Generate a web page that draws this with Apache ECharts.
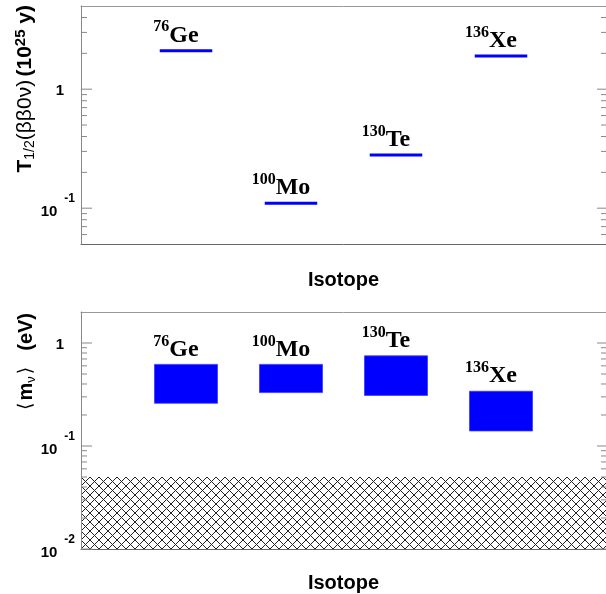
<!DOCTYPE html>
<html>
<head>
<meta charset="utf-8">
<script src="https://cdn.jsdelivr.net/npm/echarts@6/dist/echarts.min.js"></script>
<style>
  html, body { margin: 0; padding: 0; background: #fff; }
  #chart { width: 606px; height: 594px; }
</style>
</head>
<body>
<div id="chart"></div>
<script>
// ======================
// DATA
// ======================

const isotopeNames = ['Ge', 'Mo', 'Te', 'Xe'];
const massNumbers = ['76', '100', '130', '136'];
const isotopeSlots = [1, 2, 3, 4];

// half-life limits, 10^25 y
const halfLifeLimits = [2.1, 0.11, 0.28, 1.9];

// effective mass ranges, eV
const massUpper = [0.62, 0.62, 0.75, 0.34];
const massLower = [0.26, 0.33, 0.31, 0.14];

// hatched band, eV
const excludedBand = [0.01, 0.05];

// ticks of the log axes
const halfLifeMajorTicks = [0.1, 1];
const halfLifeMinorTicks = [0.06, 0.07, 0.08, 0.09, 0.2, 0.3, 0.4, 0.5, 0.6, 0.7, 0.8, 0.9, 2, 3, 4];
const massMajorTicks = [0.01, 0.1, 1];
const massMinorTicks = [0.02, 0.03, 0.04, 0.05, 0.06, 0.07, 0.08, 0.09, 0.2, 0.3, 0.4, 0.5, 0.6, 0.7, 0.8, 0.9];

// ======================
// STYLE
// ======================

const BLUE = '#0000ff';
const SANS = '"Liberation Sans", Arial, sans-serif';
const SERIF = '"Liberation Serif", "Times New Roman", serif';
const LINE_HALF = 0.25;
const BOX_HALF = 0.3;
const LABEL_SHIFT = -10;

const isoRich = {
    m: { fontFamily: SERIF, fontWeight: 'bold', fontSize: 16, lineHeight: 10, verticalAlign: 'top', color: '#000' },
    e: { fontFamily: SERIF, fontWeight: 'bold', fontSize: 24, lineHeight: 28, verticalAlign: 'bottom', color: '#000' }
};

const tickRich = {
    n: { fontFamily: SANS, fontWeight: 'bold', fontSize: 15, lineHeight: 30, verticalAlign: 'bottom', color: '#000', padding: [0, 0, 4, 0] },
    one: { fontFamily: SANS, fontWeight: 'bold', fontSize: 15, lineHeight: 30, verticalAlign: 'bottom', color: '#000', padding: [0, 11, 6, 0] },
    x: { fontFamily: SANS, fontWeight: 'bold', fontSize: 12, lineHeight: 10, verticalAlign: 'top', color: '#000', padding: [0, 0, 0, 7] }
};

// ======================
// HATCH PATTERN
// ======================

const hatch = document.createElement('canvas');
hatch.width = 9;
hatch.height = 9;
(function () {
    const ctx = hatch.getContext('2d');
    ctx.strokeStyle = '#222';
    ctx.lineWidth = 1;
    ctx.beginPath();
    ctx.moveTo(-1, -1); ctx.lineTo(10, 10);
    ctx.moveTo(-1, 10); ctx.lineTo(10, -1);
    ctx.stroke();
})();

// ======================
// HELPERS
// ======================

function tickLabel(v) {
    const p = Math.round(Math.log10(v));
    if (Math.abs(Math.log10(v) - p) > 1e-6) return '';
    if (p === 0) return '{one|1}';
    return '{n|10}{x|' + p + '}';
}

function isoText(i) {
    return '{m|' + massNumbers[i] + '}{e|' + isotopeNames[i] + '}';
}

function xAxisPair(gridIndex) {
    return [
        {
            type: 'value', gridIndex, min: 0, max: 5, position: 'bottom',
            axisLine: { show: true, lineStyle: { color: '#666', width: 1 } },
            axisTick: { show: false }, axisLabel: { show: false }, splitLine: { show: false },
            name: 'Isotope', nameLocation: 'middle', nameGap: gridIndex === 0 ? 26 : 24,
            nameTextStyle: { fontFamily: SANS, fontWeight: 'bold', fontSize: 20, color: '#000' }
        },
        {
            type: 'value', gridIndex, min: 0, max: 5, position: 'top',
            axisLine: { show: true, lineStyle: { color: '#999', width: 1 } },
            axisTick: { show: false }, axisLabel: { show: false }, splitLine: { show: false }
        }
    ];
}

function yAxisPair(gridIndex, min, max) {
    return [
        {
            type: 'log', logBase: 10, gridIndex, min, max, position: 'left', z: 5,
            axisLine: { show: true, lineStyle: { color: '#888', width: 1 } },
            axisTick: { show: false },
            axisLabel: { show: true, margin: 6, formatter: tickLabel, rich: tickRich, showMinLabel: true, showMaxLabel: true },
            splitLine: { show: false }
        },
        {
            type: 'log', logBase: 10, gridIndex, min, max, position: 'right', z: 5,
            axisLine: { show: false },
            axisTick: { show: false },
            axisLabel: { show: false },
            splitLine: { show: false }
        }
    ];
}

// ticks drawn through the axis scale: left length / right length
function tickSeries(xIdx, yIdx, values, leftLen, rightLen) {
    return {
        type: 'custom', xAxisIndex: xIdx, yAxisIndex: yIdx, z: 6, silent: true,
        data: values.map(v => [0, v]),
        renderItem: (params, api) => {
            const l = api.coord([0, api.value(1)]);
            const r = api.coord([5, api.value(1)]);
            return {
                type: 'group',
                children: [
                    { type: 'line', shape: { x1: l[0], y1: l[1], x2: l[0] + leftLen, y2: l[1] }, style: { stroke: '#888', lineWidth: 1 } },
                    { type: 'line', shape: { x1: r[0] - rightLen, y1: r[1], x2: r[0], y2: r[1] }, style: { stroke: '#888', lineWidth: 1 } }
                ]
            };
        }
    };
}

// ======================
// RENDER ITEMS
// ======================

function renderHalfLife(params, api) {
    const slot = api.value(0);
    const val = api.value(1);
    const a = api.coord([slot - LINE_HALF, val]);
    const b = api.coord([slot + LINE_HALF, val]);
    return {
        type: 'group',
        children: [
            { type: 'line', shape: { x1: a[0], y1: a[1], x2: b[0], y2: b[1] }, style: { stroke: BLUE, lineWidth: 3 } },
            {
                type: 'text', x: (a[0] + b[0]) / 2 + LABEL_SHIFT, y: a[1] - 3.5,
                style: { text: isoText(params.dataIndex), rich: isoRich, align: 'center', verticalAlign: 'bottom' }
            }
        ]
    };
}

function renderMass(params, api) {
    const slot = api.value(0);
    const lo = api.coord([slot - BOX_HALF, api.value(1)]);
    const hi = api.coord([slot + BOX_HALF, api.value(2)]);
    return {
        type: 'group',
        children: [
            {
                type: 'rect',
                shape: { x: lo[0], y: hi[1], width: hi[0] - lo[0], height: lo[1] - hi[1] },
                style: { fill: BLUE, stroke: '#3a3aff', lineWidth: 0.8 }
            },
            {
                type: 'text', x: (lo[0] + hi[0]) / 2 + LABEL_SHIFT, y: hi[1] - 3,
                style: { text: isoText(params.dataIndex), rich: isoRich, align: 'center', verticalAlign: 'bottom' }
            }
        ]
    };
}

function renderBand(params, api) {
    const a = api.coord([0, api.value(1)]);
    const b = api.coord([5, api.value(2)]);
    return {
        type: 'rect',
        shape: { x: a[0], y: b[1], width: b[0] - a[0], height: a[1] - b[1] },
        style: { fill: { image: hatch, repeat: 'repeat' } }
    };
}

// ======================
// OPTION
// ======================

const option = {
    animation: false,
    backgroundColor: '#fff',
    grid: [
        { left: 81, top: 6, width: 525, height: 238, outerBoundsMode: 'none', containLabel: false },
        { left: 81, top: 312, width: 525, height: 237, outerBoundsMode: 'none', containLabel: false }
    ],
    xAxis: [...xAxisPair(0), ...xAxisPair(1)],
    yAxis: [...yAxisPair(0, 0.05, 5), ...yAxisPair(1, 0.01, 2)],
    graphic: [
        {
            type: 'text', x: 25, y: 5, rotation: Math.PI / 2,
            style: {
                text: '{t|T}{s|1/2}{g|(ββ0ν)} {t|(10}{p|25}{t| y)}',
                align: 'right', verticalAlign: 'middle',
                rich: {
                    t: { fontFamily: SANS, fontWeight: 'bold', fontSize: 21, lineHeight: 24, verticalAlign: 'middle', color: '#000' },
                    g: { fontFamily: SANS, fontSize: 21, lineHeight: 24, verticalAlign: 'middle', color: '#000' },
                    s: { fontFamily: SANS, fontSize: 14, lineHeight: 8, verticalAlign: 'bottom', color: '#000' },
                    p: { fontFamily: SANS, fontWeight: 'bold', fontSize: 15, lineHeight: 8, verticalAlign: 'top', color: '#000' }
                }
            }
        },
        {
            type: 'text', x: 26, y: 313, rotation: Math.PI / 2,
            style: {
                text: '{a|⟨}{t|m}{s|ν}{a|⟩}{w| }{t|(eV)}',
                align: 'right', verticalAlign: 'middle',
                rich: {
                    t: { fontFamily: SANS, fontWeight: 'bold', fontSize: 20, lineHeight: 24, verticalAlign: 'middle', color: '#000' },
                    a: { fontFamily: '"DejaVu Sans", sans-serif', fontSize: 19, lineHeight: 24, verticalAlign: 'middle', color: '#000', padding: [0, 2, 0, 2] },
                    s: { fontFamily: SANS, fontSize: 13, lineHeight: 8, verticalAlign: 'bottom', color: '#000' },
                    w: { width: 14 }
                }
            }
        }
    ],
    series: [
        tickSeries(0, 0, halfLifeMajorTicks, 11, 9),
        tickSeries(0, 0, halfLifeMinorTicks, 6, 5),
        tickSeries(2, 2, massMajorTicks, 11, 9),
        tickSeries(2, 2, massMinorTicks, 6, 5),
        {
            type: 'custom', xAxisIndex: 0, yAxisIndex: 0, z: 3,
            data: isotopeSlots.map((s, i) => [s, halfLifeLimits[i]]),
            renderItem: renderHalfLife
        },
        {
            type: 'custom', xAxisIndex: 2, yAxisIndex: 2, z: 2,
            data: [[0, excludedBand[0], excludedBand[1]]],
            encode: { x: 0, y: [1, 2] },
            renderItem: renderBand
        },
        {
            type: 'custom', xAxisIndex: 2, yAxisIndex: 2, z: 3,
            data: isotopeSlots.map((s, i) => [s, massLower[i], massUpper[i]]),
            encode: { x: 0, y: [1, 2] },
            renderItem: renderMass
        }
    ]
};

const chart = echarts.init(document.getElementById('chart'));
chart.setOption(option);
</script>
</body>
</html>
